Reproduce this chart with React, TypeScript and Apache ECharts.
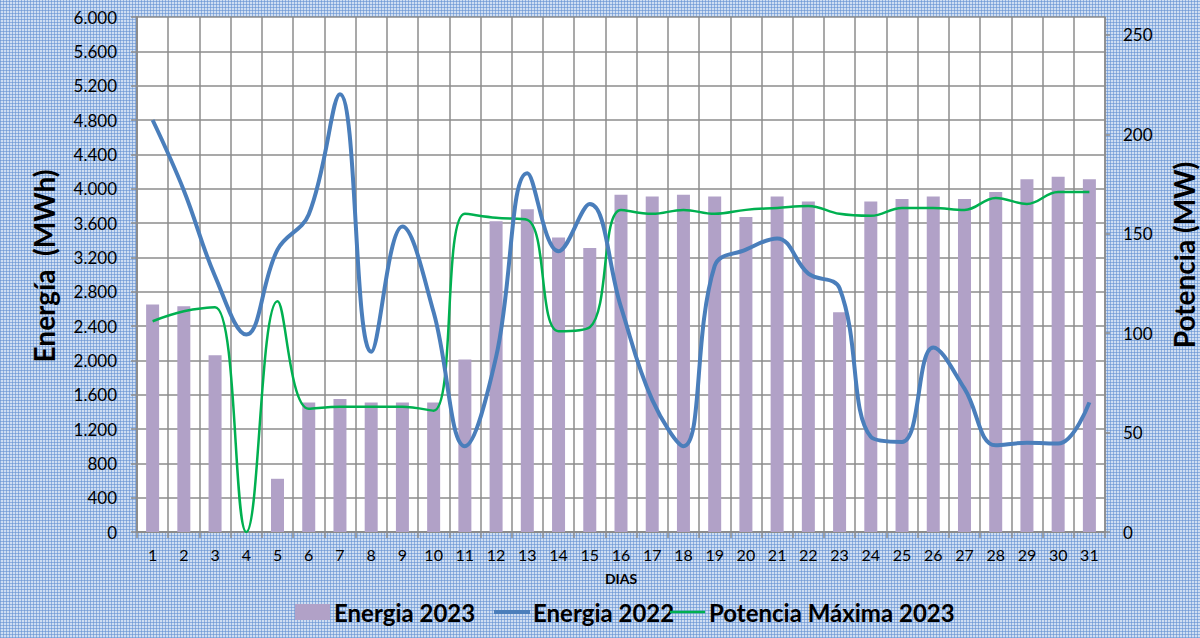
import React, { useEffect, useRef } from "react";
import * as echarts from "echarts";

const days = Array.from({ length: 31 }, (_, i) => String(i + 1));

const energia2023 = [
  2650, 2630, 2060, 0, 620, 1510, 1550, 1510, 1510, 1510,
  2010, 3620, 3760, 3430, 3310, 3930, 3910, 3930, 3910, 3670,
  3910, 3850, 2560, 3850, 3880, 3910, 3880, 3960, 4110, 4140, 4110,
];

const energia2022 = [
  4800, 3980, 2980, 2300, 3290, 3700, 5100, 2100, 3560, 2560,
  1000, 2040, 4180, 3270, 3820, 2620, 1540, 1000, 3100, 3290,
  3420, 3010, 2840, 1110, 1050, 2150, 1670, 1010, 1040, 1030, 1510,
];

const potencia2023 = [
  106, 111, 113, 0, 116, 62, 63, 63, 63, 61,
  160, 158, 157, 101, 103, 162, 160, 162, 160, 162,
  163, 164, 160, 159, 163, 163, 162, 168, 165, 171, 171,
];

const seriesNames = ["Energia 2023", "Energia 2022", "Potencia Máxima 2023"];

const FONT = "Lato, 'Open Sans', sans-serif";
const GRID = "#8c8c8c";
const C_BAR = "#b1a1c7";
const C_BLUE = "#4a7ebb";
const C_GREEN = "#00b050";

function fmtThousands(v: number): string {
  if (v >= 1000) {
    const k = Math.floor(v / 1000);
    const r = String(v % 1000).padStart(3, "0");
    return k + "." + r;
  }
  return String(v);
}

function legendText(x: number, text: string) {
  return {
    type: "text",
    x,
    y: 612,
    style: {
      text,
      fontFamily: FONT,
      fontWeight: "bold",
      fontSize: 24,
      fill: "#000",
      align: "left",
      verticalAlign: "middle",
    },
  };
}

export default function App() {
  const ref = useRef<HTMLDivElement>(null);
  useEffect(() => {
    if (!ref.current) return;
    const chart = echarts.init(ref.current, null, { renderer: "svg" });
    chart.setOption({
      animation: false,
      backgroundColor: "transparent",
      textStyle: { fontFamily: FONT },
      grid: { left: 137, right: 95, top: 17, bottom: 106, containLabel: false },
      legend: { show: false },
      xAxis: {
        type: "category",
        data: days,
        boundaryGap: true,
        axisLine: { show: true, lineStyle: { color: GRID, width: 2 } },
        axisTick: { show: true, length: 6, lineStyle: { color: GRID, width: 1.5 }, interval: 0 },
        axisLabel: { color: "#000", fontSize: 16, fontFamily: FONT, margin: 14, interval: 0 },
        splitLine: { show: true, interval: 0, lineStyle: { color: GRID, width: 1.5 } },
      },
      yAxis: [
        {
          type: "value",
          min: 0,
          max: 6000,
          interval: 400,
          axisLine: { show: true, lineStyle: { color: GRID, width: 2 } },
          axisTick: { show: true, length: 6, inside: false, lineStyle: { color: GRID, width: 1.5 } },
          axisLabel: {
            color: "#000",
            fontSize: 17,
            fontFamily: FONT,
            margin: 20,
            formatter: (v: number) => fmtThousands(v),
          },
          splitLine: { show: true, lineStyle: { color: GRID, width: 1.5 } },
        },
        {
          type: "value",
          min: 0,
          max: 259,
          interval: 50,
          position: "right",
          axisLine: { show: true, lineStyle: { color: GRID, width: 1.5 } },
          axisTick: { show: true, length: 5, lineStyle: { color: GRID, width: 1.5 } },
          axisLabel: {
            color: "#000",
            fontSize: 17,
            fontFamily: FONT,
            margin: 18,
            showMaxLabel: false,
            formatter: (v: number) => (v % 50 === 0 ? String(v) : ""),
          },
          splitLine: { show: false },
        },
      ],
      series: [
        {
          name: seriesNames[0],
          type: "bar",
          data: energia2023,
          barWidth: 13,
          itemStyle: { color: C_BAR },
          yAxisIndex: 0,
          z: 2,
        },
        {
          name: seriesNames[1],
          type: "line",
          data: energia2022,
          smooth: 0.4,
          symbol: "none",
          lineStyle: { color: C_BLUE, width: 4 },
          itemStyle: { color: C_BLUE },
          yAxisIndex: 0,
          z: 4,
        },
        {
          name: seriesNames[2],
          type: "line",
          data: potencia2023,
          smooth: 0.4,
          symbol: "none",
          lineStyle: { color: C_GREEN, width: 2.5 },
          itemStyle: { color: C_GREEN },
          yAxisIndex: 1,
          z: 3,
        },
      ],
      graphic: [
        {
          type: "text",
          x: 44,
          y: 266,
          rotation: Math.PI / 2,
          style: {
            text: "Energía  (MWh)",
            fontFamily: FONT,
            fontWeight: "bold",
            fontSize: 28,
            fill: "#000",
            align: "center",
            verticalAlign: "middle",
          },
        },
        {
          type: "text",
          x: 1184,
          y: 255,
          rotation: Math.PI / 2,
          style: {
            text: "Potencia (MW)",
            fontFamily: FONT,
            fontWeight: "bold",
            fontSize: 28,
            fill: "#000",
            align: "center",
            verticalAlign: "middle",
          },
        },
        {
          type: "text",
          x: 621,
          y: 578,
          style: {
            text: "DIAS",
            fontFamily: FONT,
            fontWeight: "bold",
            fontSize: 14,
            fill: "#000",
            align: "center",
            verticalAlign: "middle",
          },
        },
        {
          type: "rect",
          shape: { x: 295, y: 604, width: 35, height: 16 },
          style: { fill: C_BAR },
        },
        legendText(334, seriesNames[0]),
        {
          type: "line",
          shape: { x1: 494, y1: 612, x2: 530, y2: 612 },
          style: { stroke: C_BLUE, lineWidth: 4 },
        },
        legendText(533, seriesNames[1]),
        {
          type: "line",
          shape: { x1: 670, y1: 612, x2: 705, y2: 612 },
          style: { stroke: C_GREEN, lineWidth: 2.5 },
        },
        legendText(709, seriesNames[2]),
      ],
    });
    return () => chart.dispose();
  }, []);

  return (
    <div
      style={{
        position: "fixed",
        left: 0,
        top: 0,
        width: 1200,
        height: 638,
        backgroundColor: "#cfdef2",
        backgroundImage:
          "repeating-linear-gradient(0deg, rgba(100,145,210,0.6) 0px, rgba(100,145,210,0.6) 1px, transparent 1px, transparent 3px), repeating-linear-gradient(90deg, rgba(100,145,210,0.6) 0px, rgba(100,145,210,0.6) 1px, transparent 1px, transparent 3px)",
      }}
    >
      <div
        style={{
          position: "absolute",
          left: 137,
          top: 17,
          width: 968,
          height: 515,
          background: "#fff",
        }}
      />
      <div ref={ref} style={{ position: "absolute", left: 0, top: 0, width: 1200, height: 638 }} />
    </div>
  );
}
